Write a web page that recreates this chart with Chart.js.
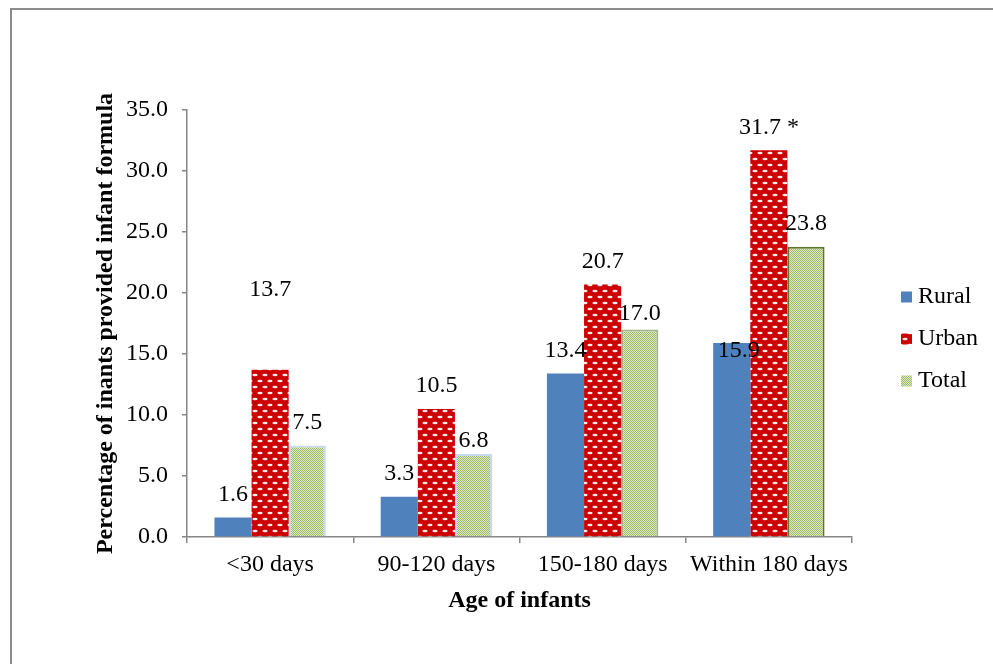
<!DOCTYPE html>
<html>
<head>
<meta charset="utf-8">
<title>Infant formula by age</title>
<script src="https://cdn.jsdelivr.net/npm/chart.js@4"></script>
<style>
  body { margin: 0; background: #fff; }
  #frame {
    position: absolute; left: 10px; top: 8px; width: 1200px; height: 900px;
    border-left: 2px solid #8c8c8c; border-top: 2px solid #8c8c8c;
  }
  #wrap { position: absolute; left: 0; top: 0; width: 993px; height: 664px; }
</style>
</head>
<body>
<div id="frame"></div>
<div id="wrap"><canvas id="chart" width="993" height="664"></canvas></div>
<script>
// Chart data
const categories = ["<30 days", "90-120 days", "150-180 days", "Within 180 days"];
const rural = [1.6, 3.3, 13.4, 15.9];
const urban = [13.7, 10.5, 20.7, 31.7];
const total = [7.5, 6.8, 17.0, 23.8];
const urbanNotes = ["", "", "", " *"];
const yTicks = [0, 5, 10, 15, 20, 25, 30, 35];

const FONT = "'Liberation Serif', 'Times New Roman', serif";
const SIZE = 24;

// Build the fill patterns used by Urban and Total
const makePattern = (w, h, paint) => {
  const c = document.createElement("canvas");
  c.width = w;
  c.height = h;
  paint(c.getContext("2d"));
  return document.getElementById("chart").getContext("2d").createPattern(c, "repeat");
};

const urbanPattern = makePattern(10, 12, (g) => {
  g.fillStyle = "#cc0000";
  g.fillRect(0, 0, 10, 12);
  g.fillStyle = "#ffe9e9";
  [[5, 3], [0, 9], [10, 9]].forEach(([x, y]) => {
    g.beginPath();
    g.ellipse(x, y, 2.6, 1.2, 0, 0, Math.PI * 2);
    g.fill();
  });
});

const totalPattern = makePattern(2, 2, (g) => {
  g.fillStyle = "#9cb965";
  g.fillRect(0, 0, 2, 2);
  g.fillStyle = "#e0e9ca";
  g.fillRect(1, 0, 1, 1);
  g.fillRect(0, 1, 1, 1);
});

// Small nudges for labels that were moved by hand in the original
const labelNudge = {
  "0:3": [7, 31],
  "1:0": [0, -57],
  "2:1": [0, 10],
  "2:2": [0, 7],
};

const valueLabels = {
  id: "valueLabels",
  afterDatasetsDraw(chart) {
    const { ctx } = chart;
    ctx.save();
    ctx.font = `${SIZE}px ${FONT}`;
    ctx.fillStyle = "#000";
    ctx.textAlign = "center";
    ctx.textBaseline = "middle";
    chart.data.datasets.forEach((ds, di) => {
      chart.getDatasetMeta(di).data.forEach((bar, i) => {
        const [dx, dy] = labelNudge[`${di}:${i}`] || [0, 0];
        const note = di === 1 ? urbanNotes[i] : "";
        ctx.fillText(ds.data[i].toFixed(1) + note, bar.x + dx, bar.y - 23 + dy);
      });
    });
    ctx.restore();
  },
};

const sideLegend = {
  id: "sideLegend",
  afterDraw(chart) {
    const { ctx } = chart;
    ctx.save();
    ctx.font = `${SIZE}px ${FONT}`;
    ctx.textBaseline = "middle";
    chart.data.datasets.forEach((ds, i) => {
      const y = 297 + i * 42;
      ctx.fillStyle = ds.legendFill;
      ctx.fillRect(901, y - 5.5, 11, 11);
      ctx.fillStyle = "#000";
      ctx.fillText(ds.label, 918, y);
    });
    ctx.restore();
  },
};

const data = {
  labels: categories,
  datasets: [
    {
      label: "Rural",
      data: rural,
      backgroundColor: "#4f81bd",
      legendFill: "#4f81bd",
    },
    {
      label: "Urban",
      data: urban,
      backgroundColor: urbanPattern,
      legendFill: urbanPattern,
    },
    {
      label: "Total",
      data: total,
      backgroundColor: totalPattern,
      borderColor: ["#c6d9f1", "#c6d9f1", "#a3b38c", "#5f7530"],
      borderWidth: 2,
      legendFill: totalPattern,
    },
  ],
};

const axisColor = "#868686";

new Chart(document.getElementById("chart"), {
  type: "bar",
  data,
  options: {
    responsive: false,
    animation: false,
    categoryPercentage: 0.67,
    barPercentage: 1,
    layout: { padding: { left: 87, top: 110, right: 141, bottom: 45 } },
    plugins: { legend: { display: false }, tooltip: { enabled: false } },
    scales: {
      x: {
        offset: true,
        grid: { offset: true, drawOnChartArea: false, tickLength: 6, color: axisColor, lineWidth: 1.5 },
        border: { color: axisColor, width: 1.5 },
        ticks: { color: "#000", font: { family: FONT, size: SIZE }, padding: 7, maxRotation: 0 },
        title: { display: true, text: "Age of infants", color: "#000", font: { family: FONT, size: SIZE, weight: "bold" } },
        afterFit: (s) => { s.height = 82; },
      },
      y: {
        min: 0,
        max: 35,
        afterBuildTicks: (s) => { s.ticks = yTicks.map((v) => ({ value: v })); },
        grid: { drawOnChartArea: false, tickLength: 5, color: axisColor, lineWidth: 1.5 },
        border: { color: axisColor, width: 1.5 },
        ticks: {
          color: "#000",
          font: { family: FONT, size: SIZE },
          padding: 14,
          callback: (v) => Number(v).toFixed(1),
        },
        title: {
          display: true,
          text: "Percentage of inants provided infant formula",
          color: "#000",
          font: { family: FONT, size: SIZE, weight: "bold" },
        },
        afterFit: (s) => { s.width = 100; },
      },
    },
  },
  plugins: [valueLabels, sideLegend],
});
</script>
</body>
</html>
